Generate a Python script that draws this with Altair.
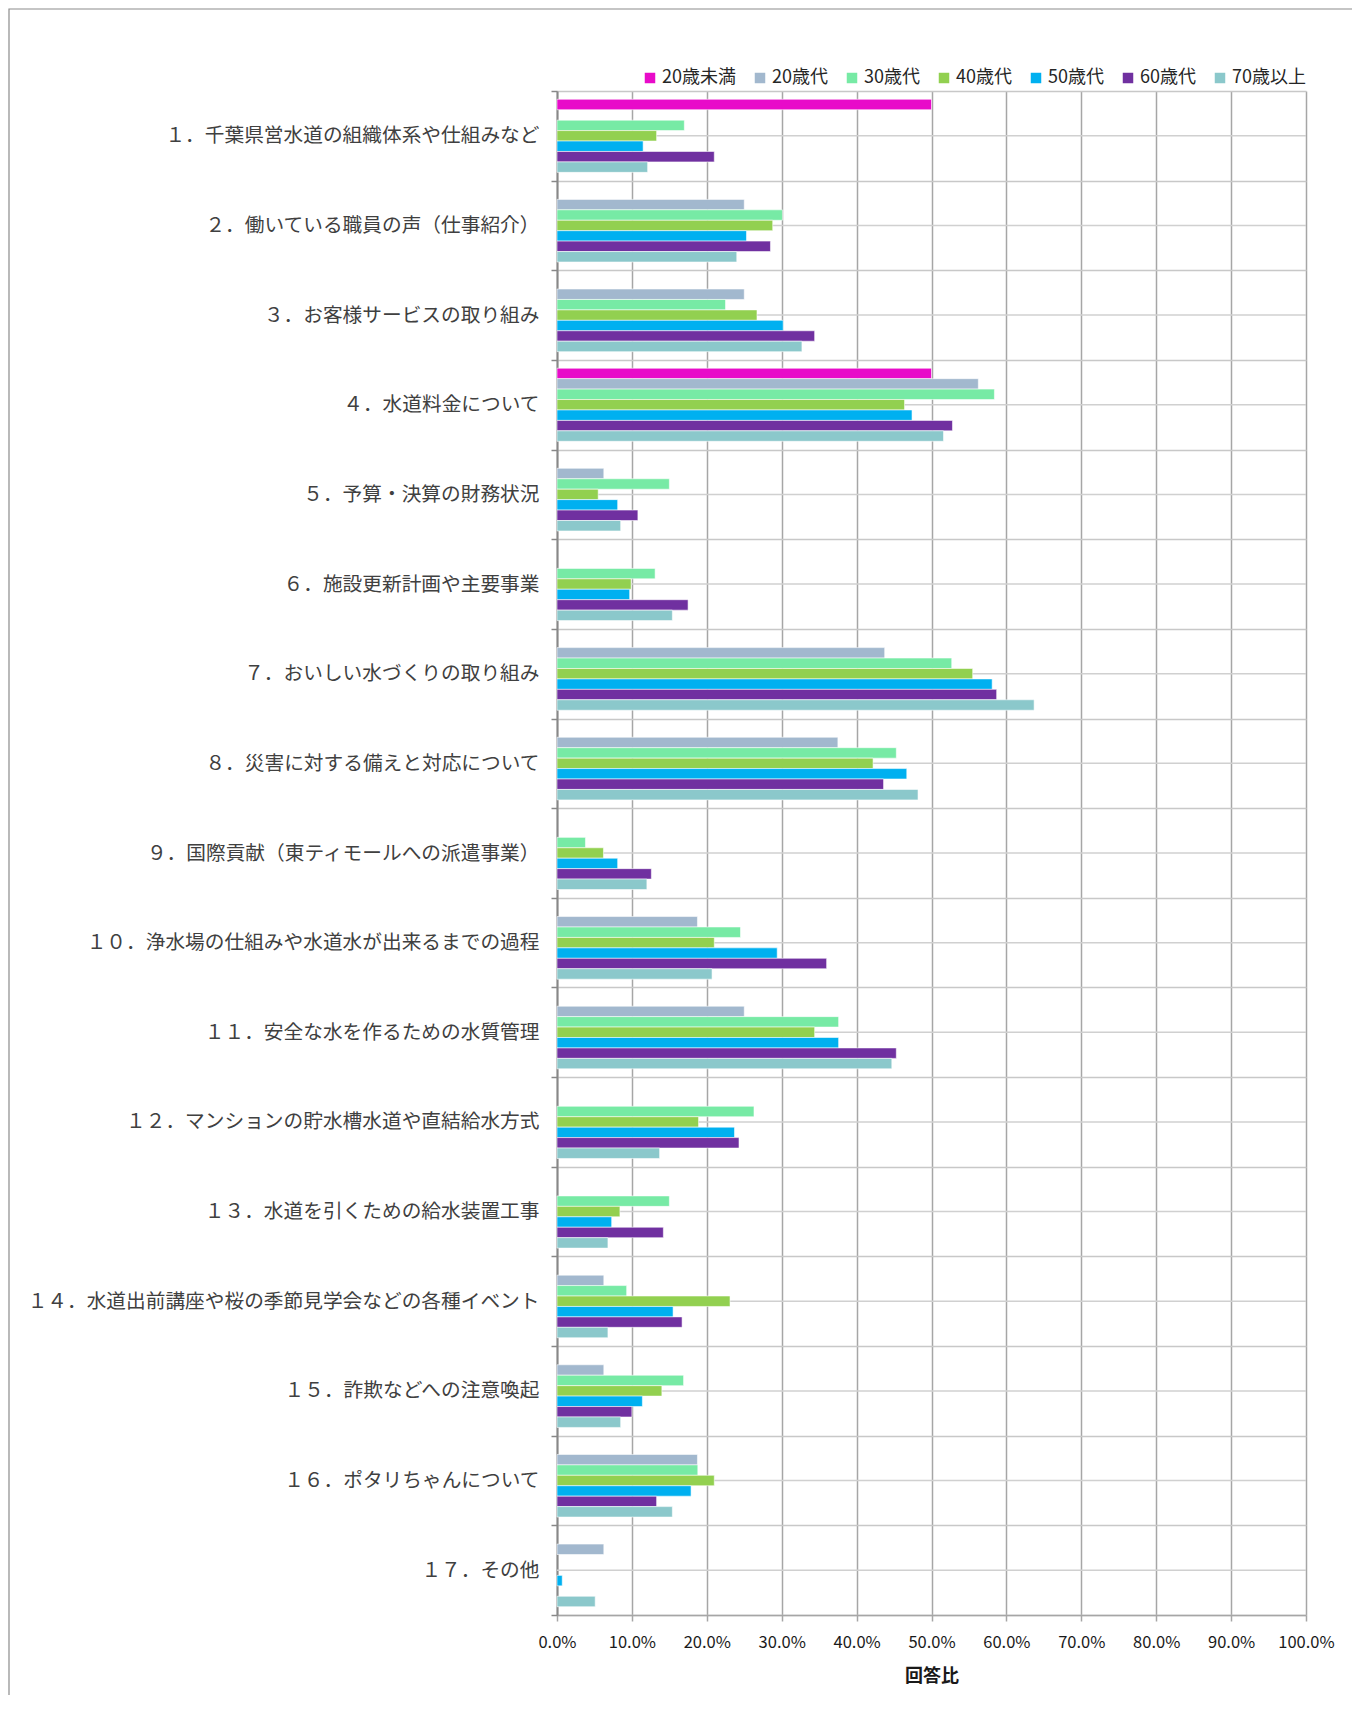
import altair as alt
import pandas as pd

categories = [
    "１．千葉県営水道の組織体系や仕組みなど",
    "２．働いている職員の声（仕事紹介）",
    "３．お客様サービスの取り組み",
    "４．水道料金について",
    "５．予算・決算の財務状況",
    "６．施設更新計画や主要事業",
    "７．おいしい水づくりの取り組み",
    "８．災害に対する備えと対応について",
    "９．国際貢献（東ティモールへの派遣事業）",
    "１０．浄水場の仕組みや水道水が出来るまでの過程",
    "１１．安全な水を作るための水質管理",
    "１２．マンションの貯水槽水道や直結給水方式",
    "１３．水道を引くための給水装置工事",
    "１４．水道出前講座や桜の季節見学会などの各種イベント",
    "１５．詐欺などへの注意喚起",
    "１６．ポタリちゃんについて",
    "１７．その他",
]

ages = ["20歳未満", "20歳代", "30歳代", "40歳代", "50歳代", "60歳代", "70歳以上"]
colors = ["#E80BC9", "#A2B8CE", "#77EAA5", "#92D050", "#00B0F0", "#7030A0", "#8BC8CB"]

under20 = [50.0, 0, 0, 50.0, 0, 0, 0, 0, 0, 0, 0, 0, 0, 0, 0, 0, 0]
age20 = [0, 25.0, 25.0, 56.25, 6.25, 0, 43.75, 37.5, 0, 18.75, 25.0, 0, 0, 6.25, 6.25, 18.75, 6.25]
age30 = [17.0, 30.1, 22.5, 58.4, 15.0, 13.1, 52.7, 45.3, 3.8, 24.5, 37.6, 26.3, 15.0, 9.3, 16.9, 18.8, 0]
age40 = [13.3, 28.8, 26.7, 46.4, 5.5, 9.9, 55.5, 42.2, 6.2, 21.0, 34.4, 18.9, 8.4, 23.1, 14.0, 21.0, 0]
age50 = [11.5, 25.3, 30.2, 47.4, 8.1, 9.7, 58.1, 46.7, 8.1, 29.4, 37.6, 23.7, 7.3, 15.5, 11.4, 17.9, 0.7]
age60 = [21.0, 28.5, 34.4, 52.8, 10.8, 17.5, 58.7, 43.6, 12.6, 36.0, 45.3, 24.3, 14.2, 16.7, 10.0, 13.3, 0]
age70 = [12.1, 24.0, 32.7, 51.6, 8.5, 15.4, 63.7, 48.2, 12.0, 20.7, 44.7, 13.7, 6.8, 6.8, 8.5, 15.4, 5.1]

series = [under20, age20, age30, age40, age50, age60, age70]

rows = []
for age, vals in zip(ages, series):
    for cat, v in zip(categories, vals):
        rows.append({"cat": cat, "age": age, "value": v})
df = pd.DataFrame(rows)
cat_df = pd.DataFrame({"cat": categories})

y_scale = alt.Scale(domain=categories, paddingInner=0, paddingOuter=0)

y_axis = alt.Axis(
    title=None,
    labelFontSize=19.7,
    labelColor="#404040",
    labelPadding=12,
    labelLimit=700,
    grid=True,
    gridColor="#C8C8C8",
    gridWidth=1.5,
    tickBand="extent",
    tickColor="#888888",
    tickSize=6,
    tickWidth=1.5,
    domainColor="#888888",
    domainWidth=2,
)

bars = (
    alt.Chart(df)
    .transform_filter("datum.value > 0")
    .mark_bar(stroke="white", strokeWidth=0.8, strokeOpacity=0.7)
    .encode(
        x=alt.X(
            "value:Q",
            scale=alt.Scale(domain=[0, 100], nice=False),
            axis=alt.Axis(
                values=list(range(0, 101, 10)),
                labelExpr="format(datum.value, '.1f') + '%'",
                labelOverlap=False,
                labelFlush=False,
                title="回答比",
                titleFontSize=18,
                titleFontWeight="bold",
                titleColor="#1a1a1a",
                titlePadding=17,
                labelFontSize=16.5,
                labelColor="#1a1a1a",
                labelPadding=13,
                grid=True,
                gridColor="#A6A6A6",
                gridWidth=1.5,
                domainColor="#A6A6A6",
                domainWidth=1.5,
                tickColor="#A6A6A6",
                tickSize=6,
                tickWidth=1.5,
            ),
        ),
        y=alt.Y("cat:N", sort=categories, scale=y_scale, axis=y_axis),
        yOffset=alt.YOffset(
            "age:N",
            sort=ages,
            scale=alt.Scale(domain=ages, paddingInner=0, paddingOuter=0.795),
        ),
        color=alt.Color(
            "age:N",
            sort=ages,
            scale=alt.Scale(domain=ages, range=colors),
            legend=alt.Legend(
                title=None,
                orient="none",
                direction="horizontal",
                columns=7,
                legendX=84,
                legendY=-22,
                symbolType="square",
                symbolSize=110,
                symbolStrokeWidth=0,
                labelFontSize=18,
                labelColor="#262626",
                labelOffset=3,
                columnPadding=15,
            ),
        ),
    )
)

midlines = (
    alt.Chart(cat_df)
    .mark_rule(color="#D0D0D0", strokeWidth=1.5)
    .encode(y=alt.Y("cat:N", sort=categories, scale=y_scale, axis=y_axis))
)

frame = (
    alt.Chart(pd.DataFrame({"a": [0]}))
    .mark_rect(filled=False, stroke="#8C8C8C", strokeWidth=1.2)
    .encode(
        x=alt.value(-548),
        x2=alt.value(1100),
        y=alt.value(-82),
        y2=alt.value(2000),
    )
)

chart = (
    alt.layer(frame, midlines, bars)
    .properties(
        width=749,
        height=1524,
        autosize=alt.AutoSizeParams(type="none"),
        padding={"left": 549, "top": 83, "right": 46, "bottom": 80},
        background="white",
    )
    .configure(font="Noto Sans CJK JP")
    .configure_view(strokeWidth=0)
)

chart.save("out.html", embed_options={"renderer": "svg", "actions": False})
